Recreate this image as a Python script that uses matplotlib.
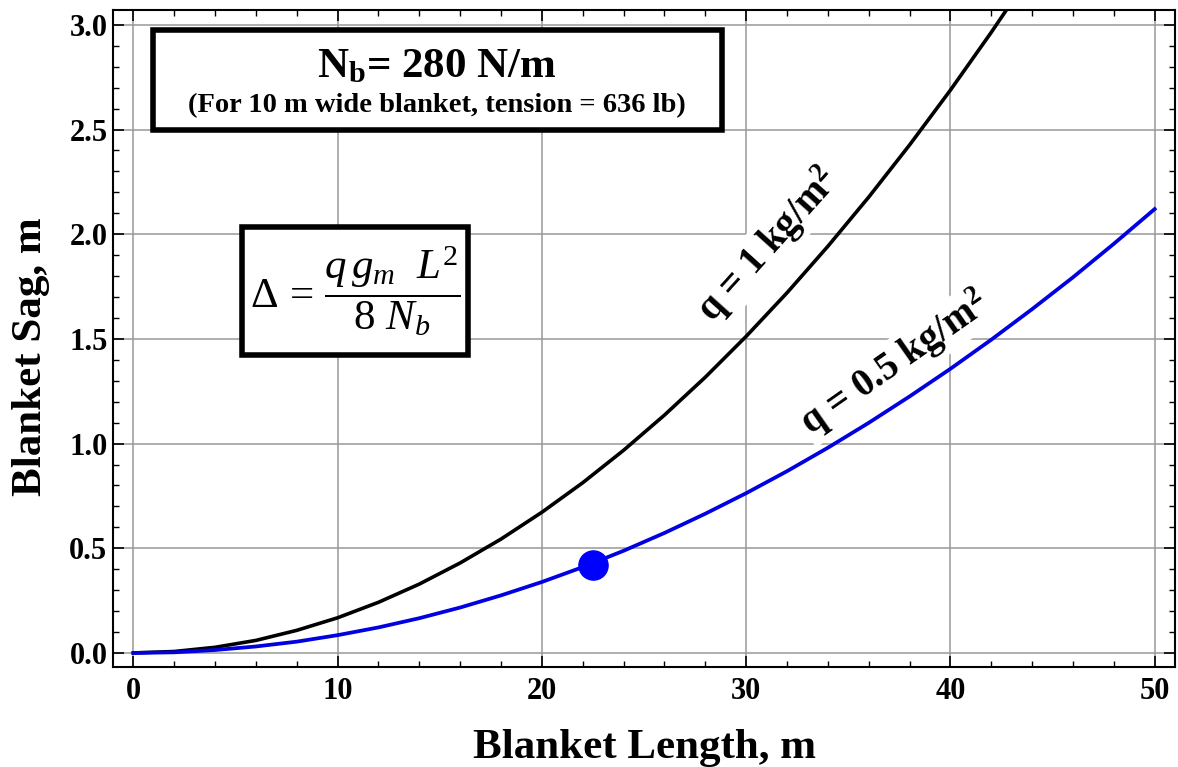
import numpy as np
import matplotlib
matplotlib.use('Agg')
import matplotlib.pyplot as plt
from matplotlib.patches import Rectangle
from matplotlib.ticker import MultipleLocator, FormatStrFormatter

# Blanket sag vs blanket length

length_q1 = [0, 2, 4, 6, 8, 10, 12, 14, 16, 18, 20, 22, 24,
             26, 28, 30, 32, 34, 36, 38, 40, 42, 44]
sag_q1 = [0.0, 0.007, 0.027, 0.060, 0.108, 0.168, 0.242, 0.329, 0.430, 0.544,
          0.672, 0.813, 0.968, 1.136, 1.317, 1.512, 1.720, 1.942, 2.177, 2.426,
          2.688, 2.964, 3.252]

length_q05 = [0, 2, 4, 6, 8, 10, 12, 14, 16, 18, 20, 22, 24,
              26, 28, 30, 32, 34, 36, 38, 40, 42, 44, 46, 48, 50]
sag_q05 = [0.0, 0.003, 0.014, 0.031, 0.054, 0.085, 0.122, 0.166, 0.217, 0.275,
           0.339, 0.410, 0.488, 0.573, 0.665, 0.763, 0.868, 0.980, 1.099, 1.225,
           1.357, 1.496, 1.642, 1.794, 1.954, 2.12]

point_len = [22.5]
point_sag = [0.42]

label_q1 = 'q = 1 kg/m$^\\mathbf{2}$'
label_q05 = 'q = 0.5 kg/m$^\\mathbf{2}$'
title_txt = 'N$_\\mathbf{b}$= 280 N/m'
sub_txt = '(For 10 m wide blanket, tension = 636 lb)'
formula = r'$\Delta\,=\,\dfrac{q\,g_m\ \ L^2}{8\ N_b}$'

###############################################################################

plt.rcParams['font.family'] = 'Liberation Serif'
plt.rcParams['font.weight'] = 'bold'
plt.rcParams['mathtext.fontset'] = 'custom'
plt.rcParams['mathtext.rm'] = 'Liberation Serif:weight=normal'
plt.rcParams['mathtext.bf'] = 'Liberation Serif:weight=bold'
plt.rcParams['mathtext.it'] = 'Liberation Serif:style=italic:weight=normal'

fig = plt.figure(figsize=(11.78, 7.67), dpi=100)
ax = fig.add_axes([0.0959, 0.1304, 0.9016, 0.8566])

ax.plot(length_q1, sag_q1, color='black', lw=2.6, zorder=3)
ax.plot(length_q05, sag_q05, color='#0000e0', lw=2.7, zorder=3)
ax.plot(point_len, point_sag, 'o', color='#0000ff', ms=21, zorder=4)

ax.set_xlim(-1, 51)
ax.set_ylim(-0.067, 3.071)
ax.xaxis.set_major_locator(MultipleLocator(10))
ax.xaxis.set_minor_locator(MultipleLocator(2))
ax.yaxis.set_major_locator(MultipleLocator(0.5))
ax.yaxis.set_minor_locator(MultipleLocator(0.1))
ax.yaxis.set_major_formatter(FormatStrFormatter('%.1f'))

ax.tick_params(which='both', direction='in', top=True, right=True)
ax.tick_params(which='major', length=8, width=1.2, labelsize=22)
ax.tick_params(axis='y', which='major', pad=4)
ax.tick_params(axis='x', which='major', pad=7)
ax.tick_params(which='minor', length=4, width=1.0)
for s in ax.spines.values():
    s.set_linewidth(1.5)

ax.grid(True, which='major', color='#999999', lw=1.1)
ax.set_axisbelow(True)

ax.set_xlabel('Blanket Length, m', fontsize=31, fontweight='bold', labelpad=17)
ax.set_ylabel('Blanket Sag, m', fontsize=31, fontweight='bold')
ax.yaxis.set_label_coords(-0.059, 0.472)

# curve labels
ax.text(31.1, 1.95, label_q1, fontsize=28, fontweight='bold', rotation=48,
        ha='center', va='center', rotation_mode='anchor', zorder=5,
        bbox=dict(facecolor='white', edgecolor='none', pad=1))
ax.text(37.25, 1.38, label_q05, fontsize=28, fontweight='bold', rotation=35,
        ha='center', va='center', rotation_mode='anchor', zorder=5,
        bbox=dict(facecolor='white', edgecolor='none', pad=1))

# boxes
ax.add_patch(Rectangle((0.0377, 0.8174), 0.5357, 0.1522, transform=ax.transAxes,
                       facecolor='white', edgecolor='black', lw=4, zorder=5))
ax.text(0.3051, 0.8973, title_txt, transform=ax.transAxes, fontsize=31,
        fontweight='bold', ha='center', va='baseline', zorder=6)
ax.text(0.3051, 0.8447, sub_txt, transform=ax.transAxes, fontsize=20.5,
        fontweight='bold', ha='center', va='baseline', zorder=6)

ax.add_patch(Rectangle((0.1215, 0.4749), 0.2128, 0.1948, transform=ax.transAxes,
                       facecolor='white', edgecolor='black', lw=4, zorder=5))
ax.text(0.228, 0.572, formula, transform=ax.transAxes, fontsize=31,
        fontweight='normal', ha='center', va='center', zorder=6)

plt.savefig('out.png', dpi=100)
